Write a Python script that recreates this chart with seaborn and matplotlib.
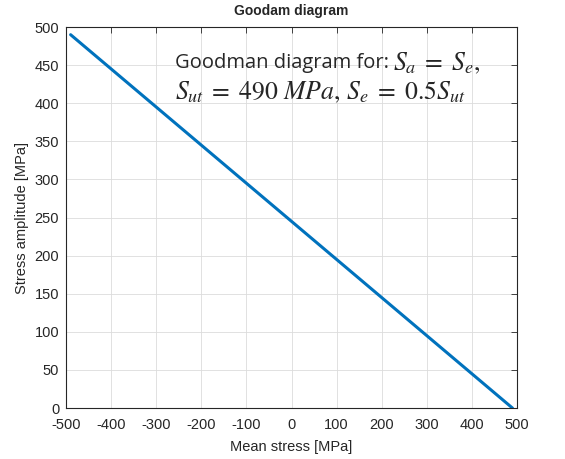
import numpy as np
import pandas as pd
import seaborn as sns
import matplotlib.pyplot as plt

# Goodman line end points (MPa)
mean_stress = [-490, 490]
stress_amp = [490, 0]
x_ticks = [-500, -400, -300, -200, -100, 0, 100, 200, 300, 400, 500]
y_ticks = [0, 50, 100, 150, 200, 250, 300, 350, 400, 450, 500]

sns.set_style("white")
plt.rcParams['font.family'] = ['Liberation Sans', 'DejaVu Sans']
plt.rcParams['mathtext.fontset'] = 'stix'
plt.rcParams['axes.unicode_minus'] = False

df = pd.DataFrame({"Sm": mean_stress, "Sa": stress_amp})

fig = plt.figure(figsize=(5.65, 4.59), dpi=100)
ax = fig.add_axes([0.117, 0.111, 0.798, 0.830])

sns.lineplot(data=df, x="Sm", y="Sa", color="#0072BD", linewidth=2.2, ax=ax)

ax.set_xlim(-500, 500)
ax.set_ylim(0, 500)
ax.set_xticks(x_ticks)
ax.set_yticks(y_ticks)
ax.tick_params(direction='in', length=4, width=0.6, colors='#262626', labelsize=10.5, top=True, right=True,
               labeltop=False, labelright=False)
ax.tick_params(axis='x', pad=7)
ax.tick_params(axis='y', pad=5)
ax.grid(True, color='#dcdcdc', linewidth=0.6)
for s in ax.spines.values():
    s.set_linewidth(0.8)
    s.set_color('#262626')

ax.set_xlabel("Mean stress [MPa]", fontsize=10.5, color='#262626', labelpad=6)
ax.set_ylabel("Stress amplitude [MPa]", fontsize=10.5, color='#262626')
ax.set_title("Goodam diagram", fontsize=10, fontweight='bold', pad=9)

ax.text(-258, 453, "Goodman diagram for:", fontsize=14.5,
        family=['Open Sans', 'DejaVu Sans'], va='center', ha='left')
ax.text(225, 453, r"$S_a\;=\;S_e,$", fontsize=18.5, va='center', ha='left')
ax.text(-258, 414, r"$S_{ut}\;=\;490\ MPa,\,S_e\;=\;0.5S_{ut}$", fontsize=18.5,
        va='center', ha='left')

fig.savefig("out.png", dpi=100)
